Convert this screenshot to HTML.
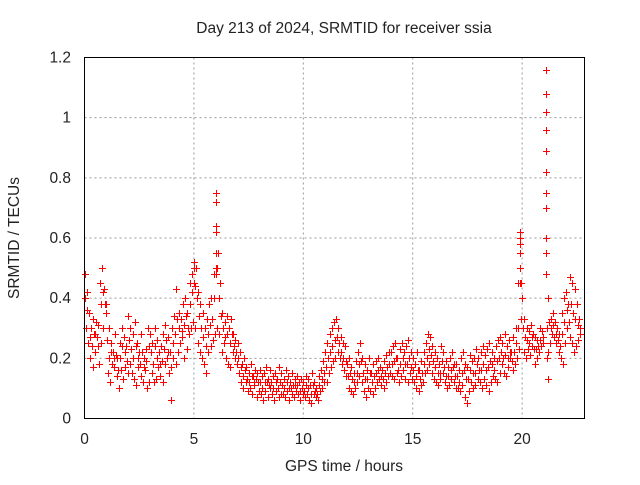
<!DOCTYPE html>
<html><head><meta charset="utf-8"><style>
body{margin:0;background:#fff;}
svg{font-family:"Liberation Sans",sans-serif;}
</style></head><body>
<svg id="chart" width="640" height="480" viewBox="0 0 640 480" xmlns="http://www.w3.org/2000/svg">
<rect width="640" height="480" fill="#fff"/>
<g id="grid"></g>
<g id="marks"></g>
<rect x="84.5" y="57.5" width="500" height="361" fill="none" stroke="#000" stroke-width="1"/>
<g id="ticks" font-size="15.5" fill="#222"></g>
<text x="344" y="33" font-size="15.5" text-anchor="middle" fill="#222">Day 213 of 2024, SRMTID for receiver ssia</text>
<text x="344" y="471" font-size="15.5" text-anchor="middle" fill="#222">GPS time / hours</text>
<text x="19" y="238" font-size="15.5" text-anchor="middle" fill="#222" transform="rotate(-90 19 238)">SRMTID / TECUs</text>
</svg>
<script>
const xTicks=[0,5,10,15,20];
const yTicks=[0,0.2,0.4,0.6,0.8,1,1.2];
const yTickLabels=["0","0.2","0.4","0.6","0.8","1","1.2"];
const times=[
0,0.1,0.2,0.3,0.4,0.5,0.6,0.7,0.8,0.9,
1,1.1,1.2,1.3,1.4,1.5,1.6,1.7,1.8,1.9,
2,2.1,2.2,2.3,2.4,2.5,2.6,2.7,2.8,2.9,
3,3.1,3.2,3.3,3.4,3.5,3.6,3.7,3.8,3.9,
4,4.1,4.2,4.3,4.4,4.5,4.6,4.7,4.8,4.9,
5,5.1,5.2,5.3,5.4,5.5,5.6,5.7,5.8,5.9,
6,6.1,6.2,6.3,6.4,6.5,6.6,6.7,6.8,6.9,
7,7.1,7.2,7.3,7.4,7.5,7.6,7.7,7.8,7.9,
8,8.1,8.2,8.3,8.4,8.5,8.6,8.7,8.8,8.9,
9,9.1,9.2,9.3,9.4,9.5,9.6,9.7,9.8,9.9,
10,10.1,10.2,10.3,10.4,10.5,10.6,10.7,10.8,10.9,
11,11.1,11.2,11.3,11.4,11.5,11.6,11.7,11.8,11.9,
12,12.1,12.2,12.3,12.4,12.5,12.6,12.7,12.8,12.9,
13,13.1,13.2,13.3,13.4,13.5,13.6,13.7,13.8,13.9,
14,14.1,14.2,14.3,14.4,14.5,14.6,14.7,14.8,14.9,
15,15.1,15.2,15.3,15.4,15.5,15.6,15.7,15.8,15.9,
16,16.1,16.2,16.3,16.4,16.5,16.6,16.7,16.8,16.9,
17,17.1,17.2,17.3,17.4,17.5,17.6,17.7,17.8,17.9,
18,18.1,18.2,18.3,18.4,18.5,18.6,18.7,18.8,18.9,
19,19.1,19.2,19.3,19.4,19.5,19.6,19.7,19.8,19.9,
20,20.1,20.2,20.3,20.4,20.5,20.6,20.7,20.8,20.9,
21.1,21.1,21.2,21.3,21.4,21.5,21.6,21.7,21.8,21.9,
22,22.1,22.2,22.3,22.4,22.5,22.6];
const valsUpper=[
.48,.42,.35,.30,.33,.28,.31,.45,.50,.43,
.38,.30,.25,.22,.28,.20,.25,.30,.27,.24,
.34,.30,.28,.32,.25,.22,.28,.20,.23,.30,
.28,.25,.30,.26,.22,.24,.28,.31,.27,.22,
.30,.34,.43,.35,.33,.38,.40,.35,.45,.48,
.52,.50,.42,.38,.35,.30,.33,.38,.40,.48,
.75,.55,.45,.35,.32,.34,.30,.33,.28,.26,
.25,.22,.18,.20,.17,.15,.18,.14,.16,.15,
.16,.14,.15,.17,.13,.16,.14,.15,.13,.17,
.15,.13,.16,.14,.12,.15,.13,.14,.12,.13,
.12,.14,.13,.11,.15,.12,.10,.14,.16,.19,
.22,.25,.28,.30,.32,.33,.30,.27,.25,.24,
.18,.20,.17,.15,.19,.22,.25,.20,.18,.16,
.20,.15,.18,.19,.20,.17,.16,.19,.21,.22,
.22,.24,.25,.20,.23,.25,.22,.24,.26,.22,
.20,.18,.22,.16,.19,.22,.25,.28,.27,.24,
.22,.20,.18,.24,.22,.19,.17,.20,.22,.18,
.18,.16,.20,.22,.18,.17,.21,.19,.20,.23,
.20,.22,.24,.21,.23,.25,.22,.20,.24,.26,
.27,.25,.28,.24,.26,.22,.27,.30,.45,.60,
.40,.33,.30,.29,.31,.28,.27,.26,.30,.29,
1.16,.60,.40,.33,.35,.32,.30,.28,.35,.40,
.42,.38,.47,.45,.43,.38,.33];
const valsMid=[
.40,.36,.27,.24,.28,.32,.24,.38,.42,.38,
.26,.20,.22,.17,.21,.16,.20,.24,.22,.19,
.26,.23,.20,.24,.20,.18,.22,.17,.19,.24,
.22,.18,.24,.20,.18,.19,.23,.26,.22,.17,
.25,.28,.33,.30,.29,.31,.34,.30,.38,.42,
.44,.40,.34,.30,.27,.24,.28,.31,.33,.40,
.50,.40,.34,.30,.27,.28,.25,.28,.24,.22,
.20,.17,.14,.16,.13,.12,.14,.12,.13,.12,
.12,.10,.12,.12,.11,.12,.10,.12,.10,.12,
.11,.10,.12,.10,.10,.11,.11,.11,.09,.10,
.09,.11,.10,.08,.11,.09,.08,.11,.13,.15,
.17,.20,.22,.24,.26,.27,.25,.22,.20,.19,
.14,.15,.13,.12,.15,.18,.19,.15,.13,.13,
.15,.12,.14,.15,.16,.14,.13,.15,.17,.18,
.18,.19,.20,.16,.18,.20,.18,.18,.20,.17,
.16,.14,.16,.13,.15,.18,.20,.23,.21,.19,
.17,.15,.15,.19,.17,.14,.14,.16,.17,.14,
.14,.12,.15,.16,.13,.13,.16,.15,.15,.18,
.16,.16,.18,.16,.17,.19,.18,.16,.19,.20,
.22,.20,.21,.20,.22,.19,.22,.25,.30,.45,
.30,.27,.26,.25,.27,.23,.23,.24,.26,.27,
.20,.30,.32,.30,.31,.28,.26,.24,.28,.32,
.36,.32,.38,.35,.33,.31,.30];
const valsLower=[
.30,.25,.20,.17,.22,.27,.18,.25,.30,.35,
.15,.12,.18,.20,.14,.10,.16,.13,.17,.15,
.18,.15,.13,.11,.17,.14,.12,.16,.10,.12,
.15,.12,.13,.17,.14,.12,.18,.20,.15,.06,
.20,.18,.22,.25,.27,.20,.23,.28,.30,.32,
.30,.25,.22,.20,.18,.15,.22,.24,.26,.28,
.30,.28,.22,.25,.20,.18,.17,.22,.20,.18,
.15,.12,.10,.12,.09,.10,.08,.11,.07,.09,
.08,.06,.09,.07,.10,.08,.06,.09,.07,.08,
.08,.07,.09,.06,.08,.07,.09,.08,.06,.08,
.07,.08,.06,.05,.08,.07,.06,.09,.10,.12,
.12,.15,.17,.19,.20,.22,.20,.18,.16,.14,
.10,.09,.08,.10,.12,.14,.12,.09,.07,.10,
.09,.08,.10,.12,.13,.11,.10,.12,.14,.15,
.14,.13,.15,.12,.14,.16,.13,.12,.15,.13,
.12,.10,.09,.11,.12,.15,.16,.18,.15,.13,
.12,.11,.13,.15,.12,.10,.11,.13,.12,.10,
.10,.09,.11,.07,.05,.09,.12,.10,.11,.13,
.12,.10,.13,.11,.09,.12,.14,.13,.12,.15,
.18,.15,.14,.17,.20,.16,.18,.20,.23,.33,
.22,.20,.23,.21,.24,.18,.20,.22,.24,.25,
.13,.22,.25,.28,.27,.25,.22,.20,.18,.25,
.30,.27,.25,.22,.24,.26,.28];
const spikeTimes=[5.0,5.0,6.0,6.0,6.0,6.0,6.0,6.0,19.9,19.9,19.9,19.9,19.9,21.1,21.1,21.1,21.1,21.1,21.1,21.1,21.1,21.1];
const spikeVals=[0.50,0.45,0.72,0.64,0.62,0.55,0.50,0.48,0.62,0.58,0.55,0.50,0.45,1.08,1.02,0.96,0.89,0.82,0.75,0.70,0.55,0.48];

const X0=84.5,X1=584.5,Y0=418.5,Y1=57.5,XMAX=22.85,YMAX=1.2;
function xs(v){return X0+(X1-X0)*v/XMAX;}
function ys(v){return Y0-(Y0-Y1)*v/YMAX;}
const NS="http://www.w3.org/2000/svg";
const grid=document.getElementById('grid'),ticks=document.getElementById('ticks'),marks=document.getElementById('marks');
function mk(tag,attrs,parent){const e=document.createElementNS(NS,tag);for(const k in attrs)e.setAttribute(k,attrs[k]);parent.appendChild(e);return e;}
xTicks.forEach(t=>{
  const x=xs(t);
  if(t>0){const g=mk('line',{x1:x,x2:x,y1:Y1,y2:Y0,stroke:'#999','stroke-dasharray':'2,3'},grid);
  
  }
  const l=mk('text',{x:x,y:444,'text-anchor':'middle'},ticks);l.textContent=String(t);
  
  
});
yTicks.forEach((t,i)=>{
  const y=ys(t);
  if(t>0&&t<1.2){const g=mk('line',{x1:X0,x2:X1,y1:y,y2:y,stroke:'#999','stroke-dasharray':'2,3'},grid);
  
  }
  const l=mk('text',{x:71,y:y+5,'text-anchor':'end'},ticks);l.textContent=yTickLabels[i];
  
  
});
function plus(t,v){
  const x=Math.round(xs(t))+0.5,y=Math.round(ys(v))+0.5;
  const p=mk('path',{d:`M${x-3.5} ${y}H${x+3.5}M${x} ${y-3.5}V${y+3.5}`,stroke:'#f00','stroke-width':1,fill:'none'},marks);
  
  
}
times.forEach((t,i)=>{plus(t,valsUpper[i]);plus(t+0.033,valsMid[i]);plus(t+0.066,valsLower[i]);});
spikeTimes.forEach((t,i)=>plus(t,spikeVals[i]));
</script>
</body></html>
